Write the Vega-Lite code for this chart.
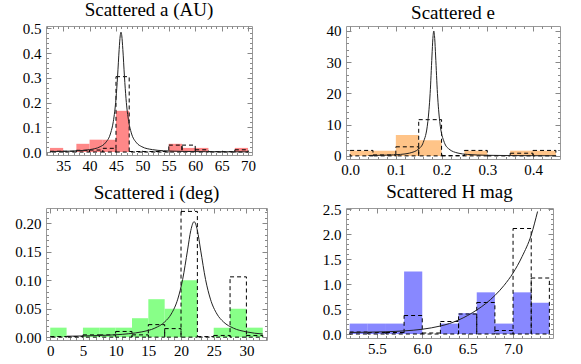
{
  "$schema": "https://vega.github.io/schema/vega-lite/v6.json",
  "padding": {"left": 14, "top": 0, "right": 5, "bottom": 0},
  "columns": 2,
  "bounds": "flush",
  "spacing": {"row": 49, "column": 79},
  "config": {
    "font": "Liberation Serif",
    "view": {"stroke": "#999999", "strokeWidth": 1},
    "axis": {"domain": false, "grid": false, "tickColor": "#888888", "tickWidth": 1, "labelFont": "Liberation Serif", "labelFontSize": 15, "labelColor": "#000000", "labelOverlap": false, "labelFlush": false},
    "style": {"guide-label": {"font": "Liberation Serif", "fontSize": 15}},
    "title": {"font": "Liberation Serif", "fontSize": 19, "fontWeight": "normal", "color": "#000000", "baseline": "alphabetic"}
  },
  "datasets": {
    "a_bars": [
      {"lo": 32.5, "hi": 35, "obs": 0.0167, "mod": 0.003},
      {"lo": 35, "hi": 37.5, "obs": 0, "mod": 0.003},
      {"lo": 37.5, "hi": 40, "obs": 0.0333, "mod": 0.007},
      {"lo": 40, "hi": 42.5, "obs": 0.05, "mod": 0.008},
      {"lo": 42.5, "hi": 45, "obs": 0.05, "mod": 0.015},
      {"lo": 45, "hi": 47.5, "obs": 0.1667, "mod": 0.305},
      {"lo": 47.5, "hi": 50, "obs": 0, "mod": 0.002},
      {"lo": 50, "hi": 52.5, "obs": 0, "mod": 0.002},
      {"lo": 52.5, "hi": 55, "obs": 0, "mod": 0.002},
      {"lo": 55, "hi": 57.5, "obs": 0.0333, "mod": 0.028},
      {"lo": 57.5, "hi": 60, "obs": 0.0167, "mod": 0.028},
      {"lo": 60, "hi": 62.5, "obs": 0.0167, "mod": 0.009},
      {"lo": 62.5, "hi": 65, "obs": 0, "mod": 0.002},
      {"lo": 65, "hi": 67.5, "obs": 0, "mod": 0.002},
      {"lo": 67.5, "hi": 70, "obs": 0.0167, "mod": 0.009}
    ],
    "a_curve": [
      {"x": 32.5, "y": 0.0019}, {"x": 35, "y": 0.0029}, {"x": 38, "y": 0.0054}, {"x": 40, "y": 0.0097},
      {"x": 42, "y": 0.0215}, {"x": 43, "y": 0.0372}, {"x": 44, "y": 0.0775}, {"x": 44.5, "y": 0.124},
      {"x": 45, "y": 0.2156}, {"x": 45.3, "y": 0.306}, {"x": 45.6, "y": 0.4146}, {"x": 45.8, "y": 0.47},
      {"x": 45.95, "y": 0.485}, {"x": 46.1, "y": 0.47}, {"x": 46.3, "y": 0.4146}, {"x": 46.6, "y": 0.306},
      {"x": 46.9, "y": 0.2156}, {"x": 47.4, "y": 0.124}, {"x": 47.9, "y": 0.0775}, {"x": 48.9, "y": 0.0372},
      {"x": 49.9, "y": 0.0215}, {"x": 51.9, "y": 0.0097}, {"x": 54, "y": 0.0053}, {"x": 58, "y": 0.0024},
      {"x": 62, "y": 0.0014}, {"x": 66, "y": 0.0009}, {"x": 70, "y": 0.0006}
    ],
    "e_bars": [
      {"lo": 0, "hi": 0.05, "obs": 1.667, "mod": 1.75},
      {"lo": 0.05, "hi": 0.1, "obs": 1.667, "mod": 0.3},
      {"lo": 0.1, "hi": 0.15, "obs": 6.667, "mod": 2.9},
      {"lo": 0.15, "hi": 0.2, "obs": 5.0, "mod": 11.6},
      {"lo": 0.2, "hi": 0.25, "obs": 0, "mod": 0.1},
      {"lo": 0.25, "hi": 0.3, "obs": 1.667, "mod": 1.75},
      {"lo": 0.3, "hi": 0.35, "obs": 0, "mod": 0.1},
      {"lo": 0.35, "hi": 0.4, "obs": 1.667, "mod": 0.85},
      {"lo": 0.4, "hi": 0.45, "obs": 1.667, "mod": 1.75}
    ],
    "e_curve": [
      {"x": 0.04, "y": 0.125}, {"x": 0.08, "y": 0.238}, {"x": 0.11, "y": 0.474}, {"x": 0.13, "y": 0.89},
      {"x": 0.15, "y": 2.22}, {"x": 0.16, "y": 4.32}, {"x": 0.17, "y": 11.0}, {"x": 0.175, "y": 20},
      {"x": 0.179, "y": 32}, {"x": 0.181, "y": 37.6}, {"x": 0.183, "y": 40}, {"x": 0.185, "y": 37.6},
      {"x": 0.187, "y": 32}, {"x": 0.191, "y": 20}, {"x": 0.196, "y": 11.0}, {"x": 0.206, "y": 4.32},
      {"x": 0.216, "y": 2.22}, {"x": 0.236, "y": 0.89}, {"x": 0.256, "y": 0.474}, {"x": 0.3, "y": 0.186},
      {"x": 0.35, "y": 0.092}, {"x": 0.4, "y": 0.054}, {"x": 0.45, "y": 0.036}
    ],
    "i_bars": [
      {"lo": 0, "hi": 2.5, "obs": 0.0167, "mod": 0.001},
      {"lo": 2.5, "hi": 5, "obs": 0, "mod": 0.001},
      {"lo": 5, "hi": 7.5, "obs": 0.0167, "mod": 0.004},
      {"lo": 7.5, "hi": 10, "obs": 0.0167, "mod": 0.004},
      {"lo": 10, "hi": 12.5, "obs": 0.0167, "mod": 0.01},
      {"lo": 12.5, "hi": 15, "obs": 0.0333, "mod": 0.004},
      {"lo": 15, "hi": 17.5, "obs": 0.0667, "mod": 0.022},
      {"lo": 17.5, "hi": 20, "obs": 0.05, "mod": 0.015},
      {"lo": 20, "hi": 22.5, "obs": 0.1, "mod": 0.221},
      {"lo": 22.5, "hi": 25, "obs": 0, "mod": 0.001},
      {"lo": 25, "hi": 27.5, "obs": 0.0167, "mod": 0.003},
      {"lo": 27.5, "hi": 30, "obs": 0.05, "mod": 0.106},
      {"lo": 30, "hi": 32.5, "obs": 0.0167, "mod": 0.003}
    ],
    "i_curve": [
      {"x": 2.5, "y": 0.0016}, {"x": 5, "y": 0.0021}, {"x": 8, "y": 0.0031}, {"x": 10, "y": 0.0042},
      {"x": 12, "y": 0.006}, {"x": 14, "y": 0.0093}, {"x": 16, "y": 0.0159}, {"x": 17.5, "y": 0.0267},
      {"x": 18.5, "y": 0.0406}, {"x": 19.5, "y": 0.0668}, {"x": 20.25, "y": 0.1015}, {"x": 21, "y": 0.153},
      {"x": 21.5, "y": 0.1877}, {"x": 22, "y": 0.203}, {"x": 22.5, "y": 0.1877}, {"x": 23, "y": 0.153},
      {"x": 23.75, "y": 0.1015}, {"x": 24.5, "y": 0.0668}, {"x": 25.5, "y": 0.0406}, {"x": 26.5, "y": 0.0267},
      {"x": 28, "y": 0.0159}, {"x": 30, "y": 0.0093}, {"x": 32.5, "y": 0.0055}
    ],
    "h_bars": [
      {"lo": 5.2, "hi": 5.4, "obs": 0.2083, "mod": 0.04},
      {"lo": 5.4, "hi": 5.6, "obs": 0.2083, "mod": 0.03},
      {"lo": 5.6, "hi": 5.8, "obs": 0.2083, "mod": 0.03},
      {"lo": 5.8, "hi": 6.0, "obs": 1.25, "mod": 0.37},
      {"lo": 6.0, "hi": 6.2, "obs": 0, "mod": 0.02},
      {"lo": 6.2, "hi": 6.4, "obs": 0.2083, "mod": 0.25},
      {"lo": 6.4, "hi": 6.6, "obs": 0.4167, "mod": 0.4},
      {"lo": 6.6, "hi": 6.8, "obs": 0.8333, "mod": 0.63},
      {"lo": 6.8, "hi": 7.0, "obs": 0.2083, "mod": 0.07},
      {"lo": 7.0, "hi": 7.2, "obs": 0.8333, "mod": 2.11},
      {"lo": 7.2, "hi": 7.4, "obs": 0.625, "mod": 1.12}
    ],
    "h_curve": [
      {"x": 5.2, "y": 0.03}, {"x": 5.4, "y": 0.036}, {"x": 5.6, "y": 0.045}, {"x": 5.8, "y": 0.062},
      {"x": 6.0, "y": 0.095}, {"x": 6.2, "y": 0.16}, {"x": 6.3, "y": 0.21}, {"x": 6.4, "y": 0.28},
      {"x": 6.5, "y": 0.37}, {"x": 6.6, "y": 0.48}, {"x": 6.7, "y": 0.61}, {"x": 6.8, "y": 0.77},
      {"x": 6.9, "y": 0.97}, {"x": 7.0, "y": 1.22}, {"x": 7.1, "y": 1.55}, {"x": 7.2, "y": 1.98},
      {"x": 7.27, "y": 2.45}
    ]
  },
  "concat": [
    {
      "title": {"text": "Scattered a (AU)", "offset": 1.5},
      "width": 206, "height": 129,
      "resolve": {"axis": {"x": "independent", "y": "independent"}},
      "layer": [
        {"data": {"name": "a_bars"},
         "mark": {"type": "rect", "color": "#ff8888", "clip": true},
         "encoding": {
           "x": {"field": "lo", "type": "quantitative", "scale": {"domain": [31.75, 70.75], "nice": false, "zero": false},
             "axis": {"orient": "bottom", "title": null, "labelFont": "Liberation Serif", "labelFontSize": 15, "values": [32,33,34,35,36,37,38,39,40,41,42,43,44,45,46,47,48,49,50,51,52,53,54,55,56,57,58,59,60,61,62,63,64,65,66,67,68,69,70],
               "tickSize": {"condition": {"test": "abs(datum.value/5-round(datum.value/5))<0.001", "value": -5}, "value": -2.5},
               "labelExpr": "abs(datum.value/5-round(datum.value/5))<0.001 ? format(datum.value,'d') : ''", "labelPadding": 8}},
           "x2": {"field": "hi"},
           "y": {"field": "obs", "type": "quantitative", "scale": {"domain": [-0.012, 0.51], "nice": false, "zero": false},
             "axis": {"orient": "left", "title": null, "labelFont": "Liberation Serif", "labelFontSize": 15, "values": [0,0.02,0.04,0.06,0.08,0.1,0.12,0.14,0.16,0.18,0.2,0.22,0.24,0.26,0.28,0.3,0.32,0.34,0.36,0.38,0.4,0.42,0.44,0.46,0.48,0.5],
               "tickSize": {"condition": {"test": "abs(datum.value/0.1-round(datum.value/0.1))<0.001", "value": -5}, "value": -2.5},
               "labelExpr": "abs(datum.value/0.1-round(datum.value/0.1))<0.001 ? format(datum.value,'.1f') : ''", "labelPadding": 10}},
           "y2": {"datum": 0}
         }},
        {"data": {"name": "a_bars"},
         "mark": {"type": "rect", "fillOpacity": 0, "stroke": "#000000", "strokeWidth": 1, "strokeDash": [4, 3], "clip": true},
         "encoding": {
           "x": {"field": "lo", "type": "quantitative",
             "axis": {"orient": "top", "title": null, "labels": false, "values": [32,33,34,35,36,37,38,39,40,41,42,43,44,45,46,47,48,49,50,51,52,53,54,55,56,57,58,59,60,61,62,63,64,65,66,67,68,69,70],
               "tickSize": {"condition": {"test": "abs(datum.value/5-round(datum.value/5))<0.001", "value": -5}, "value": -2.5}}},
           "x2": {"field": "hi"},
           "y": {"field": "mod", "type": "quantitative",
             "axis": {"orient": "right", "title": null, "labels": false, "values": [0,0.02,0.04,0.06,0.08,0.1,0.12,0.14,0.16,0.18,0.2,0.22,0.24,0.26,0.28,0.3,0.32,0.34,0.36,0.38,0.4,0.42,0.44,0.46,0.48,0.5],
               "tickSize": {"condition": {"test": "abs(datum.value/0.1-round(datum.value/0.1))<0.001", "value": -5}, "value": -2.5}}},
           "y2": {"datum": 0}
         }},
        {"data": {"name": "a_curve"},
         "mark": {"type": "line", "color": "#222222", "strokeWidth": 1, "interpolate": "monotone", "clip": true},
         "encoding": {
           "x": {"field": "x", "type": "quantitative", "axis": null},
           "y": {"field": "y", "type": "quantitative", "axis": null}
         }}
      ]
    },
    {
      "title": {"text": "Scattered e", "offset": 1},
      "width": 214, "height": 133,
      "resolve": {"axis": {"x": "independent", "y": "independent"}},
      "layer": [
        {"data": {"name": "e_bars"},
         "mark": {"type": "rect", "color": "#ffc488", "clip": true},
         "encoding": {
           "x": {"field": "lo", "type": "quantitative", "scale": {"domain": [-0.009, 0.459], "nice": false, "zero": false},
             "axis": {"orient": "bottom", "title": null, "labelFont": "Liberation Serif", "labelFontSize": 15, "values": [0,0.02,0.04,0.06,0.08,0.1,0.12,0.14,0.16,0.18,0.2,0.22,0.24,0.26,0.28,0.3,0.32,0.34,0.36,0.38,0.4,0.42,0.44],
               "tickSize": {"condition": {"test": "abs(datum.value/0.1-round(datum.value/0.1))<0.001", "value": -5}, "value": -2.5},
               "labelExpr": "abs(datum.value/0.1-round(datum.value/0.1))<0.001 ? format(datum.value,'.1f') : ''", "labelPadding": 8}},
           "x2": {"field": "hi"},
           "y": {"field": "obs", "type": "quantitative", "scale": {"domain": [-1, 41.6], "nice": false, "zero": false},
             "axis": {"orient": "left", "title": null, "labelFont": "Liberation Serif", "labelFontSize": 15, "values": [0,2,4,6,8,10,12,14,16,18,20,22,24,26,28,30,32,34,36,38,40],
               "tickSize": {"condition": {"test": "abs(datum.value/10-round(datum.value/10))<0.001", "value": -5}, "value": -2.5},
               "labelExpr": "abs(datum.value/10-round(datum.value/10))<0.001 ? format(datum.value,'d') : ''", "labelPadding": 10}},
           "y2": {"datum": 0}
         }},
        {"data": {"name": "e_bars"},
         "mark": {"type": "rect", "fillOpacity": 0, "stroke": "#000000", "strokeWidth": 1, "strokeDash": [4, 3], "clip": true},
         "encoding": {
           "x": {"field": "lo", "type": "quantitative",
             "axis": {"orient": "top", "title": null, "labels": false, "values": [0,0.02,0.04,0.06,0.08,0.1,0.12,0.14,0.16,0.18,0.2,0.22,0.24,0.26,0.28,0.3,0.32,0.34,0.36,0.38,0.4,0.42,0.44],
               "tickSize": {"condition": {"test": "abs(datum.value/0.1-round(datum.value/0.1))<0.001", "value": -5}, "value": -2.5}}},
           "x2": {"field": "hi"},
           "y": {"field": "mod", "type": "quantitative",
             "axis": {"orient": "right", "title": null, "labels": false, "values": [0,2,4,6,8,10,12,14,16,18,20,22,24,26,28,30,32,34,36,38,40],
               "tickSize": {"condition": {"test": "abs(datum.value/10-round(datum.value/10))<0.001", "value": -5}, "value": -2.5}}},
           "y2": {"datum": 0}
         }},
        {"data": {"name": "e_curve"},
         "mark": {"type": "line", "color": "#222222", "strokeWidth": 1, "interpolate": "monotone", "clip": true},
         "encoding": {
           "x": {"field": "x", "type": "quantitative", "axis": null},
           "y": {"field": "y", "type": "quantitative", "axis": null}
         }}
      ]
    },
    {
      "title": {"text": "Scattered i (deg)", "offset": 2},
      "width": 221, "height": 132,
      "resolve": {"axis": {"x": "independent", "y": "independent"}},
      "layer": [
        {"data": {"name": "i_bars"},
         "mark": {"type": "rect", "color": "#88ff88", "clip": true},
         "encoding": {
           "x": {"field": "lo", "type": "quantitative", "scale": {"domain": [-0.65, 33.15], "nice": false, "zero": false},
             "axis": {"orient": "bottom", "title": null, "labelFont": "Liberation Serif", "labelFontSize": 15, "values": [0,1,2,3,4,5,6,7,8,9,10,11,12,13,14,15,16,17,18,19,20,21,22,23,24,25,26,27,28,29,30,31,32,33],
               "tickSize": {"condition": {"test": "abs(datum.value/5-round(datum.value/5))<0.001", "value": -5}, "value": -2.5},
               "labelExpr": "abs(datum.value/5-round(datum.value/5))<0.001 ? format(datum.value,'d') : ''", "labelPadding": 8}},
           "x2": {"field": "hi"},
           "y": {"field": "obs", "type": "quantitative", "scale": {"domain": [-0.005, 0.227], "nice": false, "zero": false},
             "axis": {"orient": "left", "title": null, "labelFont": "Liberation Serif", "labelFontSize": 15, "values": [0,0.01,0.02,0.03,0.04,0.05,0.06,0.07,0.08,0.09,0.1,0.11,0.12,0.13,0.14,0.15,0.16,0.17,0.18,0.19,0.2,0.21,0.22],
               "tickSize": {"condition": {"test": "abs(datum.value/0.05-round(datum.value/0.05))<0.001", "value": -5}, "value": -2.5},
               "labelExpr": "abs(datum.value/0.05-round(datum.value/0.05))<0.001 ? format(datum.value,'.2f') : ''", "labelPadding": 10}},
           "y2": {"datum": 0}
         }},
        {"data": {"name": "i_bars"},
         "mark": {"type": "rect", "fillOpacity": 0, "stroke": "#000000", "strokeWidth": 1, "strokeDash": [4, 3], "clip": true},
         "encoding": {
           "x": {"field": "lo", "type": "quantitative",
             "axis": {"orient": "top", "title": null, "labels": false, "values": [0,1,2,3,4,5,6,7,8,9,10,11,12,13,14,15,16,17,18,19,20,21,22,23,24,25,26,27,28,29,30,31,32,33],
               "tickSize": {"condition": {"test": "abs(datum.value/5-round(datum.value/5))<0.001", "value": -5}, "value": -2.5}}},
           "x2": {"field": "hi"},
           "y": {"field": "mod", "type": "quantitative",
             "axis": {"orient": "right", "title": null, "labels": false, "values": [0,0.01,0.02,0.03,0.04,0.05,0.06,0.07,0.08,0.09,0.1,0.11,0.12,0.13,0.14,0.15,0.16,0.17,0.18,0.19,0.2,0.21,0.22],
               "tickSize": {"condition": {"test": "abs(datum.value/0.05-round(datum.value/0.05))<0.001", "value": -5}, "value": -2.5}}},
           "y2": {"datum": 0}
         }},
        {"data": {"name": "i_curve"},
         "mark": {"type": "line", "color": "#222222", "strokeWidth": 1, "interpolate": "monotone", "clip": true},
         "encoding": {
           "x": {"field": "x", "type": "quantitative", "axis": null},
           "y": {"field": "y", "type": "quantitative", "axis": null}
         }}
      ]
    },
    {
      "title": {"text": "Scattered H mag", "offset": 0.5},
      "width": 207, "height": 130,
      "resolve": {"axis": {"x": "independent", "y": "independent"}},
      "layer": [
        {"data": {"name": "h_bars"},
         "mark": {"type": "rect", "color": "#8888ff", "clip": true},
         "encoding": {
           "x": {"field": "lo", "type": "quantitative", "scale": {"domain": [5.16, 7.44], "nice": false, "zero": false},
             "axis": {"orient": "bottom", "title": null, "labelFont": "Liberation Serif", "labelFontSize": 15, "values": [5.2,5.3,5.4,5.5,5.6,5.7,5.8,5.9,6.0,6.1,6.2,6.3,6.4,6.5,6.6,6.7,6.8,6.9,7.0,7.1,7.2,7.3,7.4],
               "tickSize": {"condition": {"test": "abs(datum.value/0.5-round(datum.value/0.5))<0.001", "value": -5}, "value": -2.5},
               "labelExpr": "abs(datum.value/0.5-round(datum.value/0.5))<0.001 ? format(datum.value,'.1f') : ''", "labelPadding": 8}},
           "x2": {"field": "hi"},
           "y": {"field": "obs", "type": "quantitative", "scale": {"domain": [-0.08, 2.52], "nice": false, "zero": false},
             "axis": {"orient": "left", "title": null, "labelFont": "Liberation Serif", "labelFontSize": 15, "values": [0,0.1,0.2,0.3,0.4,0.5,0.6,0.7,0.8,0.9,1.0,1.1,1.2,1.3,1.4,1.5,1.6,1.7,1.8,1.9,2.0,2.1,2.2,2.3,2.4,2.5],
               "tickSize": {"condition": {"test": "abs(datum.value/0.5-round(datum.value/0.5))<0.001", "value": -5}, "value": -2.5},
               "labelExpr": "abs(datum.value/0.5-round(datum.value/0.5))<0.001 ? format(datum.value,'.1f') : ''", "labelPadding": 10}},
           "y2": {"datum": 0}
         }},
        {"data": {"name": "h_bars"},
         "mark": {"type": "rect", "fillOpacity": 0, "stroke": "#000000", "strokeWidth": 1, "strokeDash": [4, 3], "clip": true},
         "encoding": {
           "x": {"field": "lo", "type": "quantitative",
             "axis": {"orient": "top", "title": null, "labels": false, "values": [5.2,5.3,5.4,5.5,5.6,5.7,5.8,5.9,6.0,6.1,6.2,6.3,6.4,6.5,6.6,6.7,6.8,6.9,7.0,7.1,7.2,7.3,7.4],
               "tickSize": {"condition": {"test": "abs(datum.value/0.5-round(datum.value/0.5))<0.001", "value": -5}, "value": -2.5}}},
           "x2": {"field": "hi"},
           "y": {"field": "mod", "type": "quantitative",
             "axis": {"orient": "right", "title": null, "labels": false, "values": [0,0.1,0.2,0.3,0.4,0.5,0.6,0.7,0.8,0.9,1.0,1.1,1.2,1.3,1.4,1.5,1.6,1.7,1.8,1.9,2.0,2.1,2.2,2.3,2.4,2.5],
               "tickSize": {"condition": {"test": "abs(datum.value/0.5-round(datum.value/0.5))<0.001", "value": -5}, "value": -2.5}}},
           "y2": {"datum": 0}
         }},
        {"data": {"name": "h_curve"},
         "mark": {"type": "line", "color": "#222222", "strokeWidth": 1, "interpolate": "monotone", "clip": true},
         "encoding": {
           "x": {"field": "x", "type": "quantitative", "axis": null},
           "y": {"field": "y", "type": "quantitative", "axis": null}
         }}
      ]
    }
  ]
}
